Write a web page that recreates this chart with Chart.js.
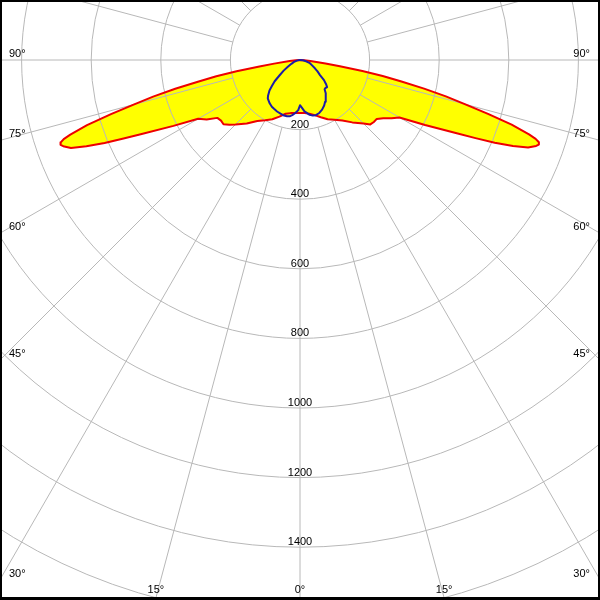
<!DOCTYPE html>
<html>
<head>
<meta charset="utf-8">
<script src="https://cdn.jsdelivr.net/npm/chart.js@4.4.0/dist/chart.umd.min.js"></script>
<style>
  html, body { margin: 0; padding: 0; background: #fff; }
  #wrap { position: relative; width: 600px; height: 600px; }
</style>
</head>
<body>
<div id="wrap"><canvas id="chart"></canvas></div>
<script>
// ===== DATA (angle from nadir in degrees, intensity) =====
const redAngles = [0, 5, 10, 15, 20, 25, 30, 35, 40, 45, 47.5, 50, 52.5, 55, 57.5, 60, 62.5, 65, 66, 67,
  68, 69, 70, 70.5, 71, 71.5, 72, 73, 74, 75, 76, 77, 78, 79, 80, 81, 82, 84, 86, 90];
// C0 plane (right half)
const redC0 = [152, 153, 157, 164, 175, 188, 198, 212, 234, 258, 274, 277, 278, 292, 312, 330, 405, 500, 552, 608,
  660, 702, 722, 728, 726, 714, 692, 636, 562, 492, 432, 366, 298, 242, 182, 116, 74, 30, 12, 0];
// C180 plane (left half)
const redC180 = [152, 153, 155, 160, 173, 188, 200, 214, 238, 262, 275, 287, 286, 290, 318, 338, 410, 505, 555, 610,
  662, 705, 724, 730, 727, 716, 694, 640, 565, 495, 435, 368, 300, 245, 185, 118, 75, 30, 12, 0];

const blueAngles = [0, 2, 5, 8, 10, 13, 16, 20, 24, 28, 31, 35, 38, 40, 42, 45, 47, 50, 53, 57, 61, 66, 72, 78, 84, 90];
// C90 plane (right half)
const blueC90 = [130, 136, 148, 155, 160, 164, 165, 162, 156, 148, 140, 128, 121, 110, 109, 110, 103, 90, 72, 60, 49, 38, 30, 18, 8, 0];
// C270 plane (left half)
const blueC270 = [130, 144, 153, 160, 164, 166, 166, 164, 162, 159, 157, 152, 147, 144, 137, 124, 111, 95, 74, 56, 40, 27, 18, 9, 3, 0];

const ringValues = [200, 400, 600, 800, 1000, 1200, 1400];
const sideAngleLabels = [90, 75, 60, 45, 30];
const bottomAngleLabels = [15, 0];

// ===== HELPERS =====
const RAD = Math.PI / 180;

function toXY(angles, values, side) {
  return angles.map((a, i) => ({
    x: side * values[i] * Math.sin(a * RAD),
    y: -values[i] * Math.cos(a * RAD)
  }));
}

// left half from 90° down to nadir, then right half back up to 90°
function curve(angles, left, right) {
  const l = toXY(angles, left, -1).reverse();
  const r = toXY(angles, right, 1);
  return l.concat(r);
}

const redPts = curve(redAngles, redC180, redC0);
const bluePts = curve(blueAngles, blueC270, blueC90);

// scale window: 0.348 px per unit, pole at (300, 60)
const PX = 0.348;
const X_MAX = 300 / PX;
const Y_MAX = 60 / PX;
const Y_MIN = -540 / PX;

// grid drawn right after the yellow fills, under the outlines
const gridPlugin = {
  id: 'polarGrid',
  afterDatasetDraw(chart, args) {
    if (args.index !== 0) return;
    const { ctx, scales: { x, y } } = chart;
    const cx = x.getPixelForValue(0);
    const cy = y.getPixelForValue(0);
    const k = x.getPixelForValue(1) - cx;

    ctx.save();
    ctx.strokeStyle = '#b8b8b8';
    ctx.lineWidth = 1;
    for (let v = 200; v <= 1800; v += 200) {
      ctx.beginPath();
      ctx.arc(cx, cy, v * k, 0, Math.PI * 2);
      ctx.stroke();
    }
    for (let a = 0; a < 360; a += 15) {
      const s = Math.sin(a * RAD), c = Math.cos(a * RAD);
      ctx.beginPath();
      ctx.moveTo(cx + s * 200 * k, cy + c * 200 * k);
      ctx.lineTo(cx + s * 2000 * k, cy + c * 2000 * k);
      ctx.stroke();
    }

    ctx.fillStyle = '#000';
    ctx.font = "11px 'Liberation Sans', Arial, sans-serif";
    ctx.textBaseline = 'alphabetic';
    ctx.textAlign = 'center';
    ringValues.forEach(v => ctx.fillText(String(v), cx, cy + v * k - 2));

    const w = chart.width, h = chart.height;
    sideAngleLabels.forEach(a => {
      const yl = a === 90 ? cy : cy + cx / Math.tan(a * RAD);
      const yr = a === 90 ? cy : cy + (w - cx) / Math.tan(a * RAD);
      ctx.textAlign = 'left';
      ctx.fillText(a + '°', 9, yl - 3);
      ctx.textAlign = 'right';
      ctx.fillText(a + '°', w - 10, yr - 3);
    });
    ctx.textAlign = 'center';
    bottomAngleLabels.forEach(a => {
      const dx = (h - 2 - cy) * Math.tan(a * RAD);
      ctx.fillText(a + '°', cx - dx, h - 7);
      if (a !== 0) ctx.fillText(a + '°', cx + dx, h - 7);
    });
    ctx.restore();
  },
  afterDraw(chart) {
    const { ctx } = chart;
    const w = chart.width, h = chart.height;
    ctx.save();
    ctx.fillStyle = '#000';
    ctx.fillRect(0, 0, w, 2);
    ctx.fillRect(0, 0, 2, h);
    ctx.fillRect(w - 2, 0, 2, h);
    ctx.fillRect(0, h - 3, w, 3);
    ctx.restore();
  }
};

new Chart(document.getElementById('chart'), {
  type: 'scatter',
  data: {
    datasets: [
      { label: 'fill', data: redPts, showLine: true, fill: 'shape',
        backgroundColor: '#ffff00', borderWidth: 0, pointRadius: 0, tension: 0, order: 3 },
      { label: 'C0-C180', data: redPts, showLine: true, fill: false,
        borderColor: '#ee0000', borderWidth: 2, pointRadius: 0, tension: 0,
        borderJoinStyle: 'round', order: 2 },
      { label: 'C90-C270', data: bluePts, showLine: true, fill: false,
        borderColor: '#1c1ca8', borderWidth: 2, pointRadius: 0, tension: 0,
        borderJoinStyle: 'round', order: 1 },
      { label: 'fill2', data: bluePts, showLine: true, fill: 'shape',
        backgroundColor: '#ffff00', borderWidth: 0, pointRadius: 0, tension: 0, order: 4 }
    ]
  },
  options: {
    responsive: true,
    maintainAspectRatio: false,
    animation: false,
    events: [],
    layout: { padding: 0 },
    plugins: { legend: { display: false }, tooltip: { enabled: false } },
    scales: {
      x: { type: 'linear', min: -X_MAX, max: X_MAX, display: false },
      y: { type: 'linear', min: Y_MIN, max: Y_MAX, display: false }
    }
  },
  plugins: [gridPlugin]
});
</script>
</body>
</html>
